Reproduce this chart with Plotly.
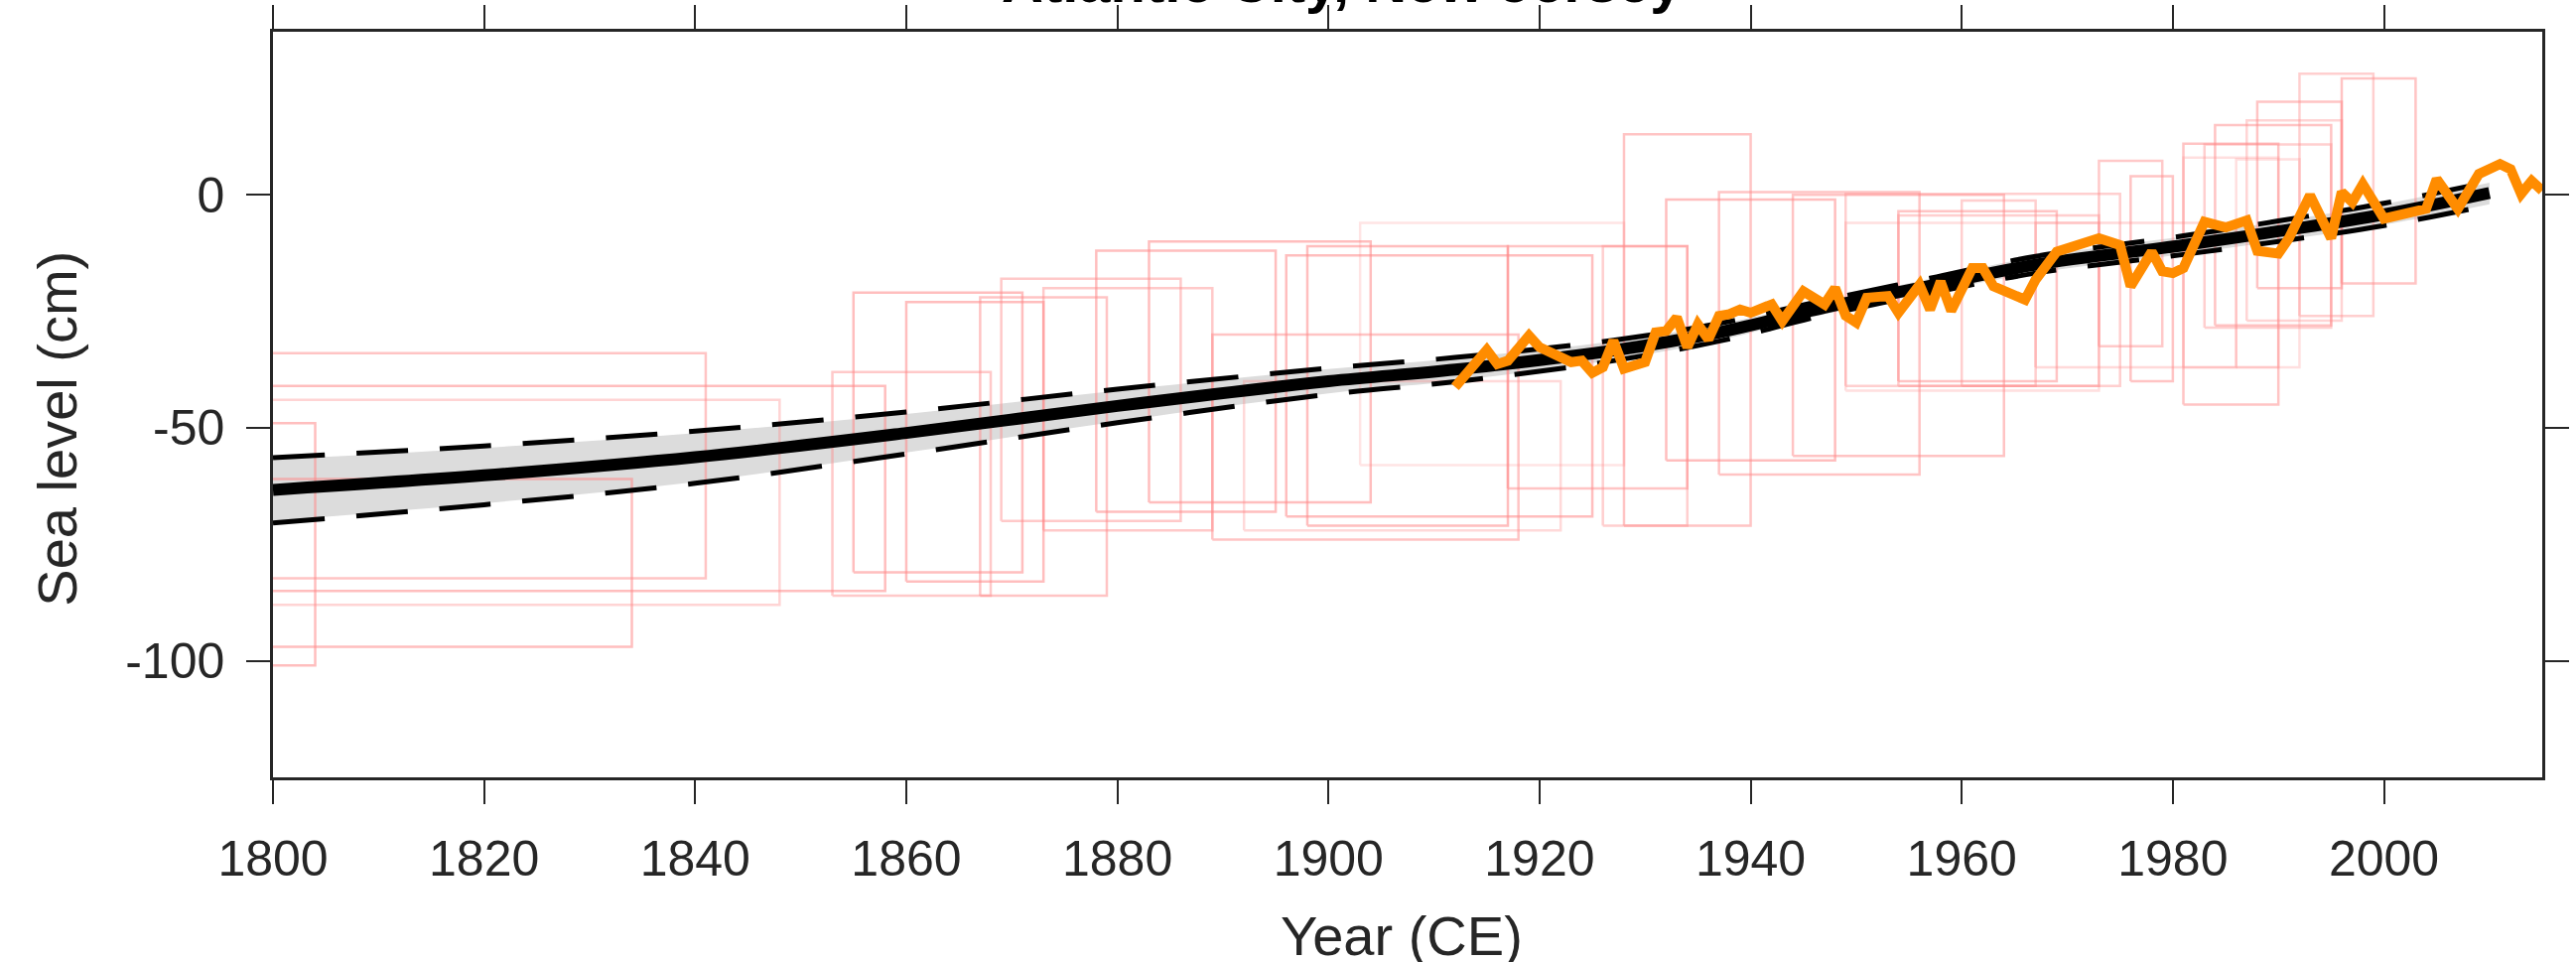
import plotly.graph_objects as go

# ---------------- data ----------------
# posterior mean of the sea-level model and its bounds (cm)
model_years = [1800, 1820, 1840, 1860, 1880, 1900, 1912, 1927, 1937, 1947, 1957, 1967, 1981, 1990, 2000, 2010]
model_mean  = [-63.3, -60.2, -56.3, -51.1, -45.3, -40.0, -37.5, -33.4, -29.5, -24.2, -19.5, -15.0, -10.8, -7.8, -4.2, 0.4]
model_upper = [-56.4, -53.9, -50.7, -46.6, -41.7, -37.2, -34.9, -31.2, -27.6, -22.6, -17.9, -13.2, -8.8, -5.6, -1.8, 2.8]
model_lower = [-70.4, -66.5, -61.9, -55.6, -48.9, -42.8, -40.1, -35.6, -31.4, -25.8, -21.1, -16.8, -12.8, -10.0, -6.6, -2.2]
band_upper  = [-56.8, -54.3, -51.1, -47.0, -42.0, -37.4, -35.1, -31.4, -27.8, -22.8, -18.0, -13.3, -8.9, -5.7, -2.0, 2.6]
band_lower  = [-70.0, -66.2, -61.6, -55.3, -48.6, -42.6, -39.9, -35.4, -31.2, -25.6, -21.0, -16.7, -12.7, -9.9, -6.4, -2.0]

# tide-gauge record (cm)
gauge_years = [1912, 1915, 1916, 1917, 1919, 1920, 1923, 1924, 1925, 1926, 1927, 1928, 1930, 1931,
               1932, 1933, 1934, 1935, 1936, 1937, 1938, 1939, 1940, 1942, 1943, 1945, 1947, 1948,
               1949, 1950, 1951, 1953, 1954, 1956, 1957, 1958, 1959, 1961, 1962, 1963, 1966, 1967,
               1969, 1971, 1973, 1975, 1976, 1978, 1979, 1980, 1981, 1983, 1985, 1987, 1988, 1990,
               1991, 1993, 1995, 1996, 1997, 1998, 2000, 2004, 2005, 2007, 2009, 2011, 2012, 2013,
               2014, 2015]
gauge_level = [-41.2, -33.3, -36.3, -35.6, -30.2, -32.7, -35.9, -35.6, -38.2, -37.0, -31.3, -37.3, -35.9, -29.5,
               -29.2, -26.3, -32.7, -27.8, -31.0, -26.0, -25.6, -24.6, -25.3, -23.5, -27.1, -20.7, -23.5, -20.0,
               -25.9, -27.4, -22.1, -21.7, -25.3, -19.3, -24.6, -18.6, -24.9, -15.7, -15.7, -19.6, -22.5, -18.2,
               -12.2, -10.8, -9.3, -10.8, -19.6, -12.2, -16.4, -16.8, -15.7, -5.8, -7.0, -5.5, -12.0, -12.6,
               -9.3, -0.1, -9.3, 0.6, -1.6, 2.3, -5.1, -3.0, 3.4, -3.0, 4.5, 6.6, 5.5, 0.2,
               3.0, 0.9]

# proxy sea-level index points: age range (years CE) and elevation range (cm)
rect_x0 = [1795, 1795, 1795, 1795, 1795, 1853, 1855, 1860, 1867, 1869, 1873, 1878, 1883, 1889,
           1896, 1898, 1892, 1903, 1928, 1917, 1926, 1932, 1937, 1944, 1949, 1949, 1960, 1954,
           1954, 1973, 1976, 1981, 1983, 1984, 1987, 1988, 1992, 1996, 1967, 1981, 1986]
rect_x1 = [1841, 1858, 1848, 1804, 1834, 1868, 1871, 1873, 1879, 1886, 1889, 1895, 1904, 1918,
           1925, 1917, 1922, 1928, 1940, 1934, 1934, 1948, 1956, 1964, 1975, 1973, 1967, 1969,
           1973, 1979, 1980, 1990, 1995, 1995, 1996, 1996, 1999, 2003, 1986, 1990, 1992]
rect_y0 = [-82.3, -85, -88, -101, -97, -86, -81, -83, -86, -70, -72, -68, -66, -74,
           -69, -71, -72, -58, -71, -63, -71, -57, -60, -56, -41, -42, -41, -40,
           -41, -32.5, -40, -45, -28.5, -28, -27, -20, -26, -19, -37, -37, -37]
rect_y1 = [-34.0, -41, -44, -49, -61, -38, -21, -23, -22, -18, -20, -12, -10, -30,
           -13, -11, -40, -6, 13, -11, -11, -1, 0.6, 0, 0.2, -6, -1.2, -3.5,
           -4.4, 7.3, 4, 11, 10.8, 15, 16, 20, 26, 25, -6, 8, 7.6]
rect_alpha = [0.55, 0.6, 0.4, 0.6, 0.6, 0.5, 0.6, 0.6, 0.55, 0.5, 0.5, 0.6, 0.6, 0.55,
              0.6, 0.6, 0.35, 0.25, 0.55, 0.55, 0.45, 0.6, 0.55, 0.55, 0.45, 0.3, 0.45, 0.55,
              0.45, 0.5, 0.55, 0.55, 0.45, 0.55, 0.4, 0.55, 0.45, 0.55, 0.35, 0.3, 0.3]

x_ticks = [1800, 1820, 1840, 1860, 1880, 1900, 1920, 1940, 1960, 1980, 2000]
y_ticks = [-100, -50, 0]

# ---------------- figure ----------------
fig = go.Figure()

# uncertainty band
fig.add_trace(go.Scatter(x=model_years, y=band_upper, mode="lines", line=dict(width=0, shape="spline"),
                         hoverinfo="skip", showlegend=False))
fig.add_trace(go.Scatter(x=model_years, y=band_lower, mode="lines", line=dict(width=0, shape="spline"),
                         fill="tonexty", fillcolor="rgb(220,220,220)", hoverinfo="skip", showlegend=False))

# proxy boxes
for x0, x1, y0, y1, a in zip(rect_x0, rect_x1, rect_y0, rect_y1, rect_alpha):
    fig.add_trace(go.Scatter(x=[x0, x1, x1, x0, x0], y=[y0, y0, y1, y1, y0], mode="lines",
                             line=dict(color=f"rgba(255,135,135,{a * 0.9:.3f})", width=2.5),
                             hoverinfo="skip", showlegend=False))

# dashed bounds
for yy in (model_upper, model_lower):
    fig.add_trace(go.Scatter(x=model_years, y=yy, mode="lines",
                             line=dict(color="black", width=5, dash="52px,32px", shape="spline"),
                             hoverinfo="skip", showlegend=False))

# mean
fig.add_trace(go.Scatter(x=model_years, y=model_mean, mode="lines",
                         line=dict(color="black", width=12, shape="spline"),
                         hoverinfo="skip", showlegend=False))

# tide gauge
fig.add_trace(go.Scatter(x=gauge_years, y=gauge_level, mode="lines",
                         line=dict(color="#FF8C00", width=10, shape="linear"),
                         hoverinfo="skip", showlegend=False))

axis_common = dict(showline=True, linecolor="#262626", linewidth=2.5, mirror="ticks",
                   ticks="outside", ticklen=24, tickwidth=2, tickcolor="#262626",
                   showgrid=False, zeroline=False, automargin=False,
                   tickfont=dict(family="Liberation Sans, Arial, sans-serif", size=50, color="#262626"))

fig.update_xaxes(range=[1800, 2015], tickvals=x_ticks, ticktext=[str(v) for v in x_ticks],
                 ticklabelstandoff=12, **axis_common)
fig.update_yaxes(range=[-125, 35], tickvals=y_ticks, ticktext=[str(v) for v in y_ticks],
                 ticklabelstandoff=12, **axis_common)

fig.update_layout(
    width=2595, height=969,
    margin=dict(l=275, r=34, t=32, b=186, autoexpand=False),
    paper_bgcolor="white", plot_bgcolor="white",
    font=dict(family="Liberation Sans, Arial, sans-serif", color="#262626"),
    annotations=[
        dict(text="<b>Atlantic City, New Jersey</b>", xref="paper", yref="paper",
             x=(1352 - 275) / 2286, y=(783 + 19) / 751.3, xanchor="center", yanchor="middle",
             showarrow=False, font=dict(size=58, color="black")),
        dict(text="Year (CE)", xref="paper", yref="paper",
             x=(1412 - 275) / 2286, y=(783 - 943) / 751.3, xanchor="center", yanchor="middle",
             showarrow=False, font=dict(size=56, color="#262626")),
        dict(text="Sea level (cm)", xref="paper", yref="paper", textangle=-90,
             x=(58 - 275) / 2286, y=(783 - 431.5) / 751.3, xanchor="center", yanchor="middle",
             showarrow=False, font=dict(size=56, color="#262626")),
    ],
)

fig.write_html("out.html", config={"displayModeBar": False},
               post_script="document.body.style.margin='0';document.body.style.overflow='hidden';")
